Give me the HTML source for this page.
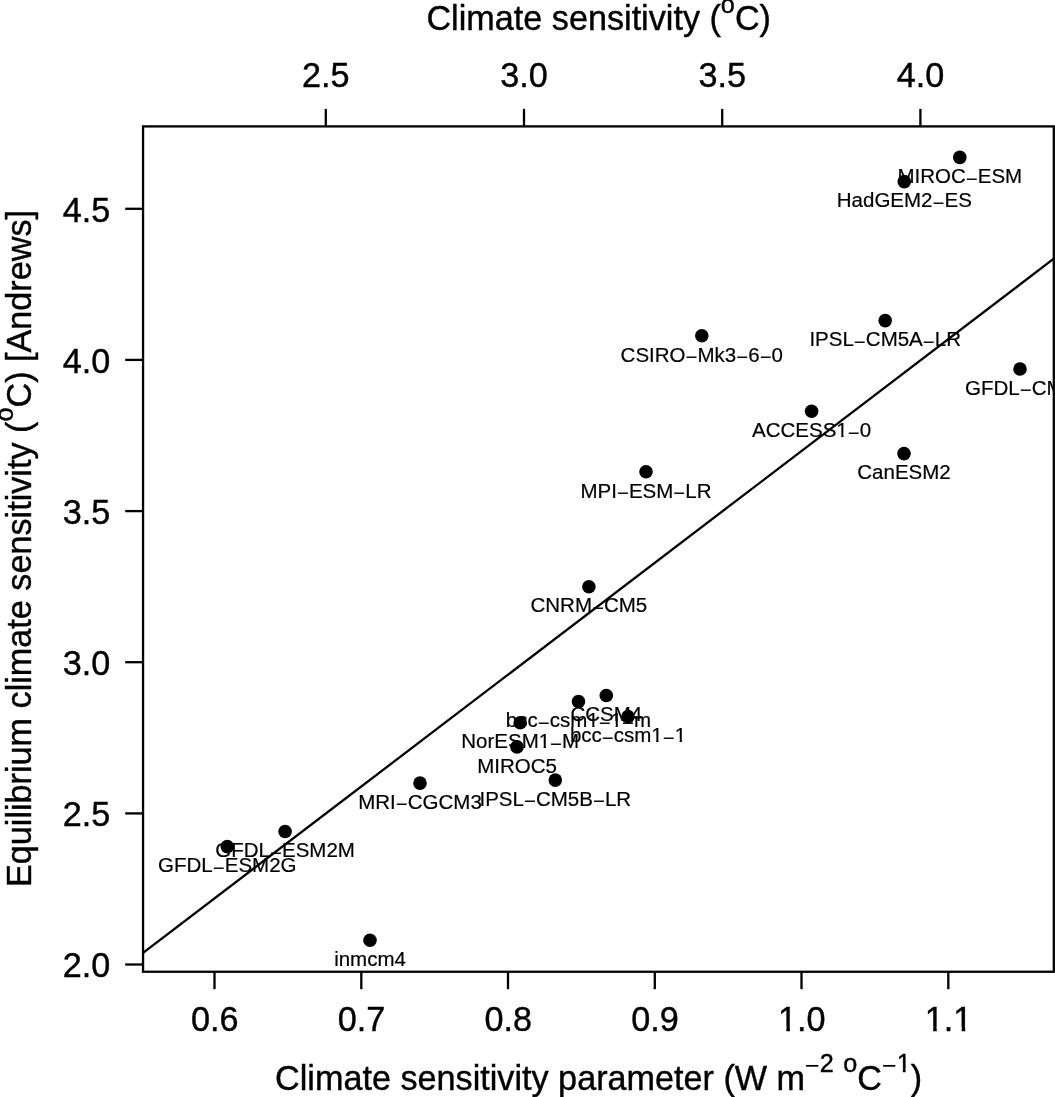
<!DOCTYPE html>
<html lang="en"><head><meta charset="utf-8"><title>Climate sensitivity</title>
<style>html,body{margin:0;padding:0;background:#fff;}body{width:1055px;height:1097px;overflow:hidden;}svg{display:block;will-change:transform;}text{font-family:"Liberation Sans",sans-serif;fill:#000;stroke:#000;stroke-width:0.4px;}.lab text{stroke-width:0.2px;}</style></head><body>
<svg width="1055" height="1097" viewBox="0 0 1055 1097">
<defs><clipPath id="plot"><rect x="143.1" y="126.4" width="912.0" height="845.4"/></clipPath>
<clipPath id="ct6"><path clip-rule="evenodd" d="M-2000 -2000H2000V2000H-2000ZM25.30 -3.23h4.34v4.53h-4.34ZM31.96 -3.23h4.18v4.53h-4.18Z"/></clipPath>
<clipPath id="ct11"><path clip-rule="evenodd" d="M-2000 -2000H2000V2000H-2000ZM9.35 -3.23h4.34v4.53h-4.34ZM16.01 -3.23h4.18v4.53h-4.18ZM32.76 -3.23h4.34v4.53h-4.34ZM39.41 -3.23h4.18v4.53h-4.18Z"/></clipPath>
<clipPath id="ct12"><path clip-rule="evenodd" d="M-2000 -2000H2000V2000H-2000ZM23.88 -3.23h4.34v4.53h-4.34ZM30.54 -3.23h4.18v4.53h-4.18ZM47.29 -3.23h4.34v4.53h-4.34ZM53.94 -3.23h4.18v4.53h-4.18Z"/></clipPath>
<clipPath id="ct13"><path clip-rule="evenodd" d="M-2000 -2000H2000V2000H-2000ZM19.05 -3.23h4.34v4.53h-4.34ZM25.71 -3.23h4.18v4.53h-4.18Z"/></clipPath>
<clipPath id="ct24"><path clip-rule="evenodd" d="M-2000 -2000H2000V2000H-2000ZM-22.16 -4.25h6.75v5.55h-6.75ZM-11.90 -4.25h6.48v5.55h-6.48Z"/></clipPath>
<clipPath id="ct25"><path clip-rule="evenodd" d="M-2000 -2000H2000V2000H-2000ZM-22.16 -4.25h6.75v5.55h-6.75ZM-11.90 -4.25h6.48v5.55h-6.48ZM6.35 -4.25h6.75v5.55h-6.75ZM16.61 -4.25h6.48v5.55h-6.48Z"/></clipPath>
<clipPath id="ct37"><path clip-rule="evenodd" d="M-2000 -2000H2000V2000H-2000ZM299.06 -20.88h5.17v4.88h-5.17ZM306.95 -20.88h4.97v4.88h-4.97Z"/></clipPath>
</defs>
<g stroke="#000" stroke-width="2.3" fill="none" stroke-linecap="butt">
<rect x="143.05" y="126.40" width="910.75" height="845.35"/>
<line x1="214.5" y1="971.8" x2="214.5" y2="989.2"/>
<line x1="361.3" y1="971.8" x2="361.3" y2="989.2"/>
<line x1="508.0" y1="971.8" x2="508.0" y2="989.2"/>
<line x1="654.8" y1="971.8" x2="654.8" y2="989.2"/>
<line x1="801.5" y1="971.8" x2="801.5" y2="989.2"/>
<line x1="948.3" y1="971.8" x2="948.3" y2="989.2"/>
<line x1="325.8" y1="126.4" x2="325.8" y2="108.9"/>
<line x1="524.0" y1="126.4" x2="524.0" y2="108.9"/>
<line x1="722.2" y1="126.4" x2="722.2" y2="108.9"/>
<line x1="920.4" y1="126.4" x2="920.4" y2="108.9"/>
<line x1="143.1" y1="964.5" x2="125.2" y2="964.5"/>
<line x1="143.1" y1="813.4" x2="125.2" y2="813.4"/>
<line x1="143.1" y1="662.2" x2="125.2" y2="662.2"/>
<line x1="143.1" y1="511.1" x2="125.2" y2="511.1"/>
<line x1="143.1" y1="359.9" x2="125.2" y2="359.9"/>
<line x1="143.1" y1="208.8" x2="125.2" y2="208.8"/>
<line x1="143.1" y1="952.8" x2="1053.8" y2="258.7" clip-path="url(#plot)"/>
</g>
<g fill="#000">
<circle cx="959.8" cy="157.4" r="6.8"/>
<circle cx="904.3" cy="181.6" r="6.8"/>
<circle cx="885.2" cy="320.6" r="6.8"/>
<circle cx="701.8" cy="335.8" r="6.8"/>
<circle cx="1020.0" cy="369.0" r="6.8"/>
<circle cx="811.6" cy="411.3" r="6.8"/>
<circle cx="904.0" cy="453.6" r="6.8"/>
<circle cx="646.0" cy="471.8" r="6.8"/>
<circle cx="588.9" cy="586.7" r="6.8"/>
<circle cx="606.3" cy="695.5" r="6.8"/>
<circle cx="578.5" cy="701.5" r="6.8"/>
<circle cx="628.0" cy="716.6" r="6.8"/>
<circle cx="520.2" cy="722.7" r="6.8"/>
<circle cx="517.0" cy="746.9" r="6.8"/>
<circle cx="555.3" cy="780.1" r="6.8"/>
<circle cx="420.0" cy="783.1" r="6.8"/>
<circle cx="285.1" cy="831.5" r="6.8"/>
<circle cx="227.3" cy="846.6" r="6.8"/>
<circle cx="370.0" cy="940.3" r="6.8"/>
</g>
<g class="lab" clip-path="url(#plot)">
<text id="t1" transform="translate(959.80 183.21)" font-size="20.5" text-anchor="middle">MIROC<tspan dy="2.5" stroke="none">−</tspan><tspan dy="-2.5">ESM</tspan></text>
<text id="t2" transform="translate(904.30 207.39)" font-size="20.5" text-anchor="middle">HadGEM2<tspan dy="2.5" stroke="none">−</tspan><tspan dy="-2.5">ES</tspan></text>
<text id="t3" transform="translate(885.20 346.44)" font-size="20.5" text-anchor="middle">IPSL<tspan dy="2.5" stroke="none">−</tspan><tspan dy="-2.5">CM5A</tspan><tspan dy="2.5" stroke="none">−</tspan><tspan dy="-2.5">LR</tspan></text>
<text id="t4" transform="translate(701.80 361.56)" font-size="20.5" text-anchor="middle">CSIRO<tspan dy="2.5" stroke="none">−</tspan><tspan dy="-2.5">Mk3</tspan><tspan dy="2.5" stroke="none">−</tspan><tspan dy="-2.5">6</tspan><tspan dy="2.5" stroke="none">−</tspan><tspan dy="-2.5">0</tspan></text>
<text id="t5" transform="translate(1020.00 394.81)" font-size="20.5" text-anchor="middle">GFDL<tspan dy="2.5" stroke="none">−</tspan><tspan dy="-2.5">CM3</tspan></text>
<text id="t6" transform="translate(811.60 437.13)" font-size="20.5" text-anchor="middle" clip-path="url(#ct6)">ACCESS1<tspan dy="2.5" stroke="none">−</tspan><tspan dy="-2.5">0</tspan></text>
<text id="t7" transform="translate(904.00 479.45)" font-size="20.5" text-anchor="middle">CanESM2</text>
<text id="t8" transform="translate(646.00 497.58)" font-size="20.5" text-anchor="middle">MPI<tspan dy="2.5" stroke="none">−</tspan><tspan dy="-2.5">ESM</tspan><tspan dy="2.5" stroke="none">−</tspan><tspan dy="-2.5">LR</tspan></text>
<text id="t9" transform="translate(588.90 612.45)" font-size="20.5" text-anchor="middle">CNRM<tspan dy="2.5" stroke="none">−</tspan><tspan dy="-2.5">CM5</tspan></text>
<text id="t10" transform="translate(606.30 721.27)" font-size="20.5" text-anchor="middle">CCSM4</text>
<text id="t11" transform="translate(578.50 727.32)" font-size="20.5" text-anchor="middle" clip-path="url(#ct11)">bcc<tspan dy="2.5" stroke="none">−</tspan><tspan dy="-2.5">csm1</tspan><tspan dy="2.5" stroke="none">−</tspan><tspan dy="-2.5">1</tspan><tspan dy="2.5" stroke="none">−</tspan><tspan dy="-2.5">m</tspan></text>
<text id="t12" transform="translate(628.00 742.43)" font-size="20.5" text-anchor="middle" clip-path="url(#ct12)">bcc<tspan dy="2.5" stroke="none">−</tspan><tspan dy="-2.5">csm1</tspan><tspan dy="2.5" stroke="none">−</tspan><tspan dy="-2.5">1</tspan></text>
<text id="t13" transform="translate(520.20 748.48)" font-size="20.5" text-anchor="middle" clip-path="url(#ct13)">NorESM1<tspan dy="2.5" stroke="none">−</tspan><tspan dy="-2.5">M</tspan></text>
<text id="t14" transform="translate(517.00 772.66)" font-size="20.5" text-anchor="middle">MIROC5</text>
<text id="t15" transform="translate(555.30 805.91)" font-size="20.5" text-anchor="middle">IPSL<tspan dy="2.5" stroke="none">−</tspan><tspan dy="-2.5">CM5B</tspan><tspan dy="2.5" stroke="none">−</tspan><tspan dy="-2.5">LR</tspan></text>
<text id="t16" transform="translate(420.00 808.93)" font-size="20.5" text-anchor="middle">MRI<tspan dy="2.5" stroke="none">−</tspan><tspan dy="-2.5">CGCM3</tspan></text>
<text id="t17" transform="translate(285.10 857.30)" font-size="20.5" text-anchor="middle">GFDL<tspan dy="2.5" stroke="none">−</tspan><tspan dy="-2.5">ESM2M</tspan></text>
<text id="t18" transform="translate(227.30 872.41)" font-size="20.5" text-anchor="middle">GFDL<tspan dy="2.5" stroke="none">−</tspan><tspan dy="-2.5">ESM2G</tspan></text>
<text id="t19" transform="translate(370.00 966.12)" font-size="20.5" text-anchor="middle">inmcm4</text>
</g>
<g>
<text id="t20" transform="translate(214.80 1031.10) scale(1 1.020)" font-size="34.2" text-anchor="middle">0.6</text>
<text id="t21" transform="translate(361.56 1031.10) scale(1 1.020)" font-size="34.2" text-anchor="middle">0.7</text>
<text id="t22" transform="translate(508.32 1031.10) scale(1 1.020)" font-size="34.2" text-anchor="middle">0.8</text>
<text id="t23" transform="translate(655.08 1031.10) scale(1 1.020)" font-size="34.2" text-anchor="middle">0.9</text>
<text id="t24" transform="translate(801.84 1031.10) scale(1 1.020)" font-size="34.2" text-anchor="middle" clip-path="url(#ct24)">1.0</text>
<text id="t25" transform="translate(948.60 1031.10) scale(1 1.020)" font-size="34.2" text-anchor="middle" clip-path="url(#ct25)">1.1</text>
<text id="t26" transform="translate(325.80 87.40) scale(1 1.020)" font-size="34.2" text-anchor="middle">2.5</text>
<text id="t27" transform="translate(524.00 87.40) scale(1 1.020)" font-size="34.2" text-anchor="middle">3.0</text>
<text id="t28" transform="translate(722.20 87.40) scale(1 1.020)" font-size="34.2" text-anchor="middle">3.5</text>
<text id="t29" transform="translate(920.40 87.40) scale(1 1.020)" font-size="34.2" text-anchor="middle">4.0</text>
<text id="t30" transform="translate(110.30 977.40) scale(1 1.020)" font-size="34.2" text-anchor="end">2.0</text>
<text id="t31" transform="translate(110.30 826.26) scale(1 1.020)" font-size="34.2" text-anchor="end">2.5</text>
<text id="t32" transform="translate(110.30 675.12) scale(1 1.020)" font-size="34.2" text-anchor="end">3.0</text>
<text id="t33" transform="translate(110.30 523.98) scale(1 1.020)" font-size="34.2" text-anchor="end">3.5</text>
<text id="t34" transform="translate(110.30 372.84) scale(1 1.020)" font-size="34.2" text-anchor="end">4.0</text>
<text id="t35" transform="translate(110.30 221.70) scale(1 1.020)" font-size="34.2" text-anchor="end">4.5</text>
</g>
<text id="t36" transform="translate(598.70 30.30)" font-size="34.2" text-anchor="middle">Climate sensitivity (<tspan font-size="25.2" dy="-17.3">o</tspan><tspan dy="17.3">C)</tspan></text>
<text id="t37" transform="translate(598.60 1089.50)" font-size="34.2" text-anchor="middle" clip-path="url(#ct37)" xml:space="preserve">Climate sensitivity parameter (W m<tspan font-size="25.2" dy="-15.7" stroke="none">−</tspan><tspan font-size="25.2" dy="-1.6">2</tspan><tspan dy="17.3"> </tspan><tspan font-size="25.2" dy="-17.3">o</tspan><tspan dy="17.3">C</tspan><tspan font-size="25.2" dy="-15.7" stroke="none">−</tspan><tspan font-size="25.2" dy="-1.6">1</tspan><tspan dy="17.3">)</tspan></text>
<text id="t38" transform="translate(30.70 548.50) rotate(-90)" font-size="34.2" text-anchor="middle">Equilibrium climate sensitivity (<tspan font-size="25.2" dy="-17.3">o</tspan><tspan dy="17.3">C) [Andrews]</tspan></text>
</svg></body></html>
